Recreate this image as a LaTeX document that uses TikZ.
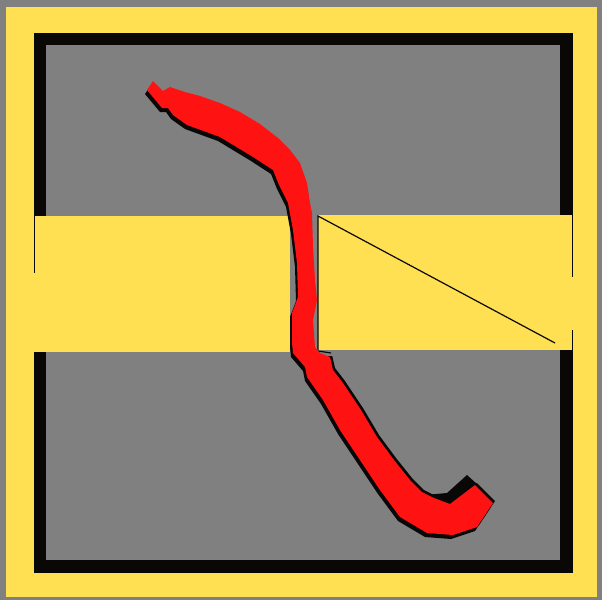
\documentclass[tikz,border=0pt]{standalone}
\definecolor{bggray}{RGB}{128,128,128}
\definecolor{ylw}{RGB}{255,224,82}
\definecolor{rd}{RGB}{255,18,18}
\definecolor{blk}{RGB}{10,8,6}
\tikzset{
  thinline/.style={draw=blk,line width=1.2pt},
}
\newcommand{\redshape}{(147,90) -- (153,81) -- (163,91) -- (170,87) -- (185,92) -- (200,96) -- (220,103) -- (240,112) -- (260,124) -- (278,138) -- (290,150) -- (300,163) -- (307,183) -- (310,203) -- (312,213) -- (313,247) -- (315,280) -- (317,300) -- (313,320) -- (315,347) -- (320,353) -- (330,357) -- (333,370) -- (343,383) -- (361,410) -- (377,437) -- (394,460) -- (410,480) -- (422,492) -- (434,498) -- (450,504) -- (475,485) -- (493,503) -- (477,527) -- (453,535) -- (427,533) -- (400,517) -- (380,490) -- (360,460) -- (340,430) -- (323,400) -- (307,377) -- (305,367) -- (293,353) -- (292,343) -- (292,313) -- (298,297) -- (297,263) -- (293,230) -- (288,203) -- (279,185) -- (273,170) -- (253,157) -- (220,137) -- (187,125) -- (173,115) -- (168,108) -- (162,108) -- cycle}
\begin{document}
\begin{tikzpicture}[x=1pt,y=-1pt]
\useasboundingbox (0,0) rectangle (602,600);
% background
\fill[bggray] (0,0) rectangle (602,600);
% frame
\fill[ylw] (6,7) rectangle (597,597);
\fill[blk] (34,33) rectangle (573,573);
\fill[bggray] (46,45) rectangle (560,560);
% band
\fill[ylw] (34,216) rectangle (290,352);
\fill[ylw] (318,215) rectangle (573,350);
\draw[thinline] (34.5,216) -- (34.5,273);
\draw[thinline] (572.5,215) -- (572.5,277);
\draw[thinline] (572.5,330) -- (572.5,350);
\draw[thinline] (318,350) -- (318,216) -- (555,343);
\draw[thinline] (318,351) -- (331,353);
% shadow
\begin{scope}[shift={(-2,4)}]
  \fill[blk] \redshape;
\end{scope}
\begin{scope}
  \clip (300,356) rectangle (500,600);
  \begin{scope}[shift={(2,-2)}]
    \fill[blk] \redshape;
  \end{scope}
\end{scope}
\fill[blk] (425,495) -- (447,493) -- (467,475) -- (477,484) -- (460,500) -- (447,506) -- (428,506) -- cycle;
% red stroke
\fill[rd] \redshape;
\end{tikzpicture}
\end{document}
